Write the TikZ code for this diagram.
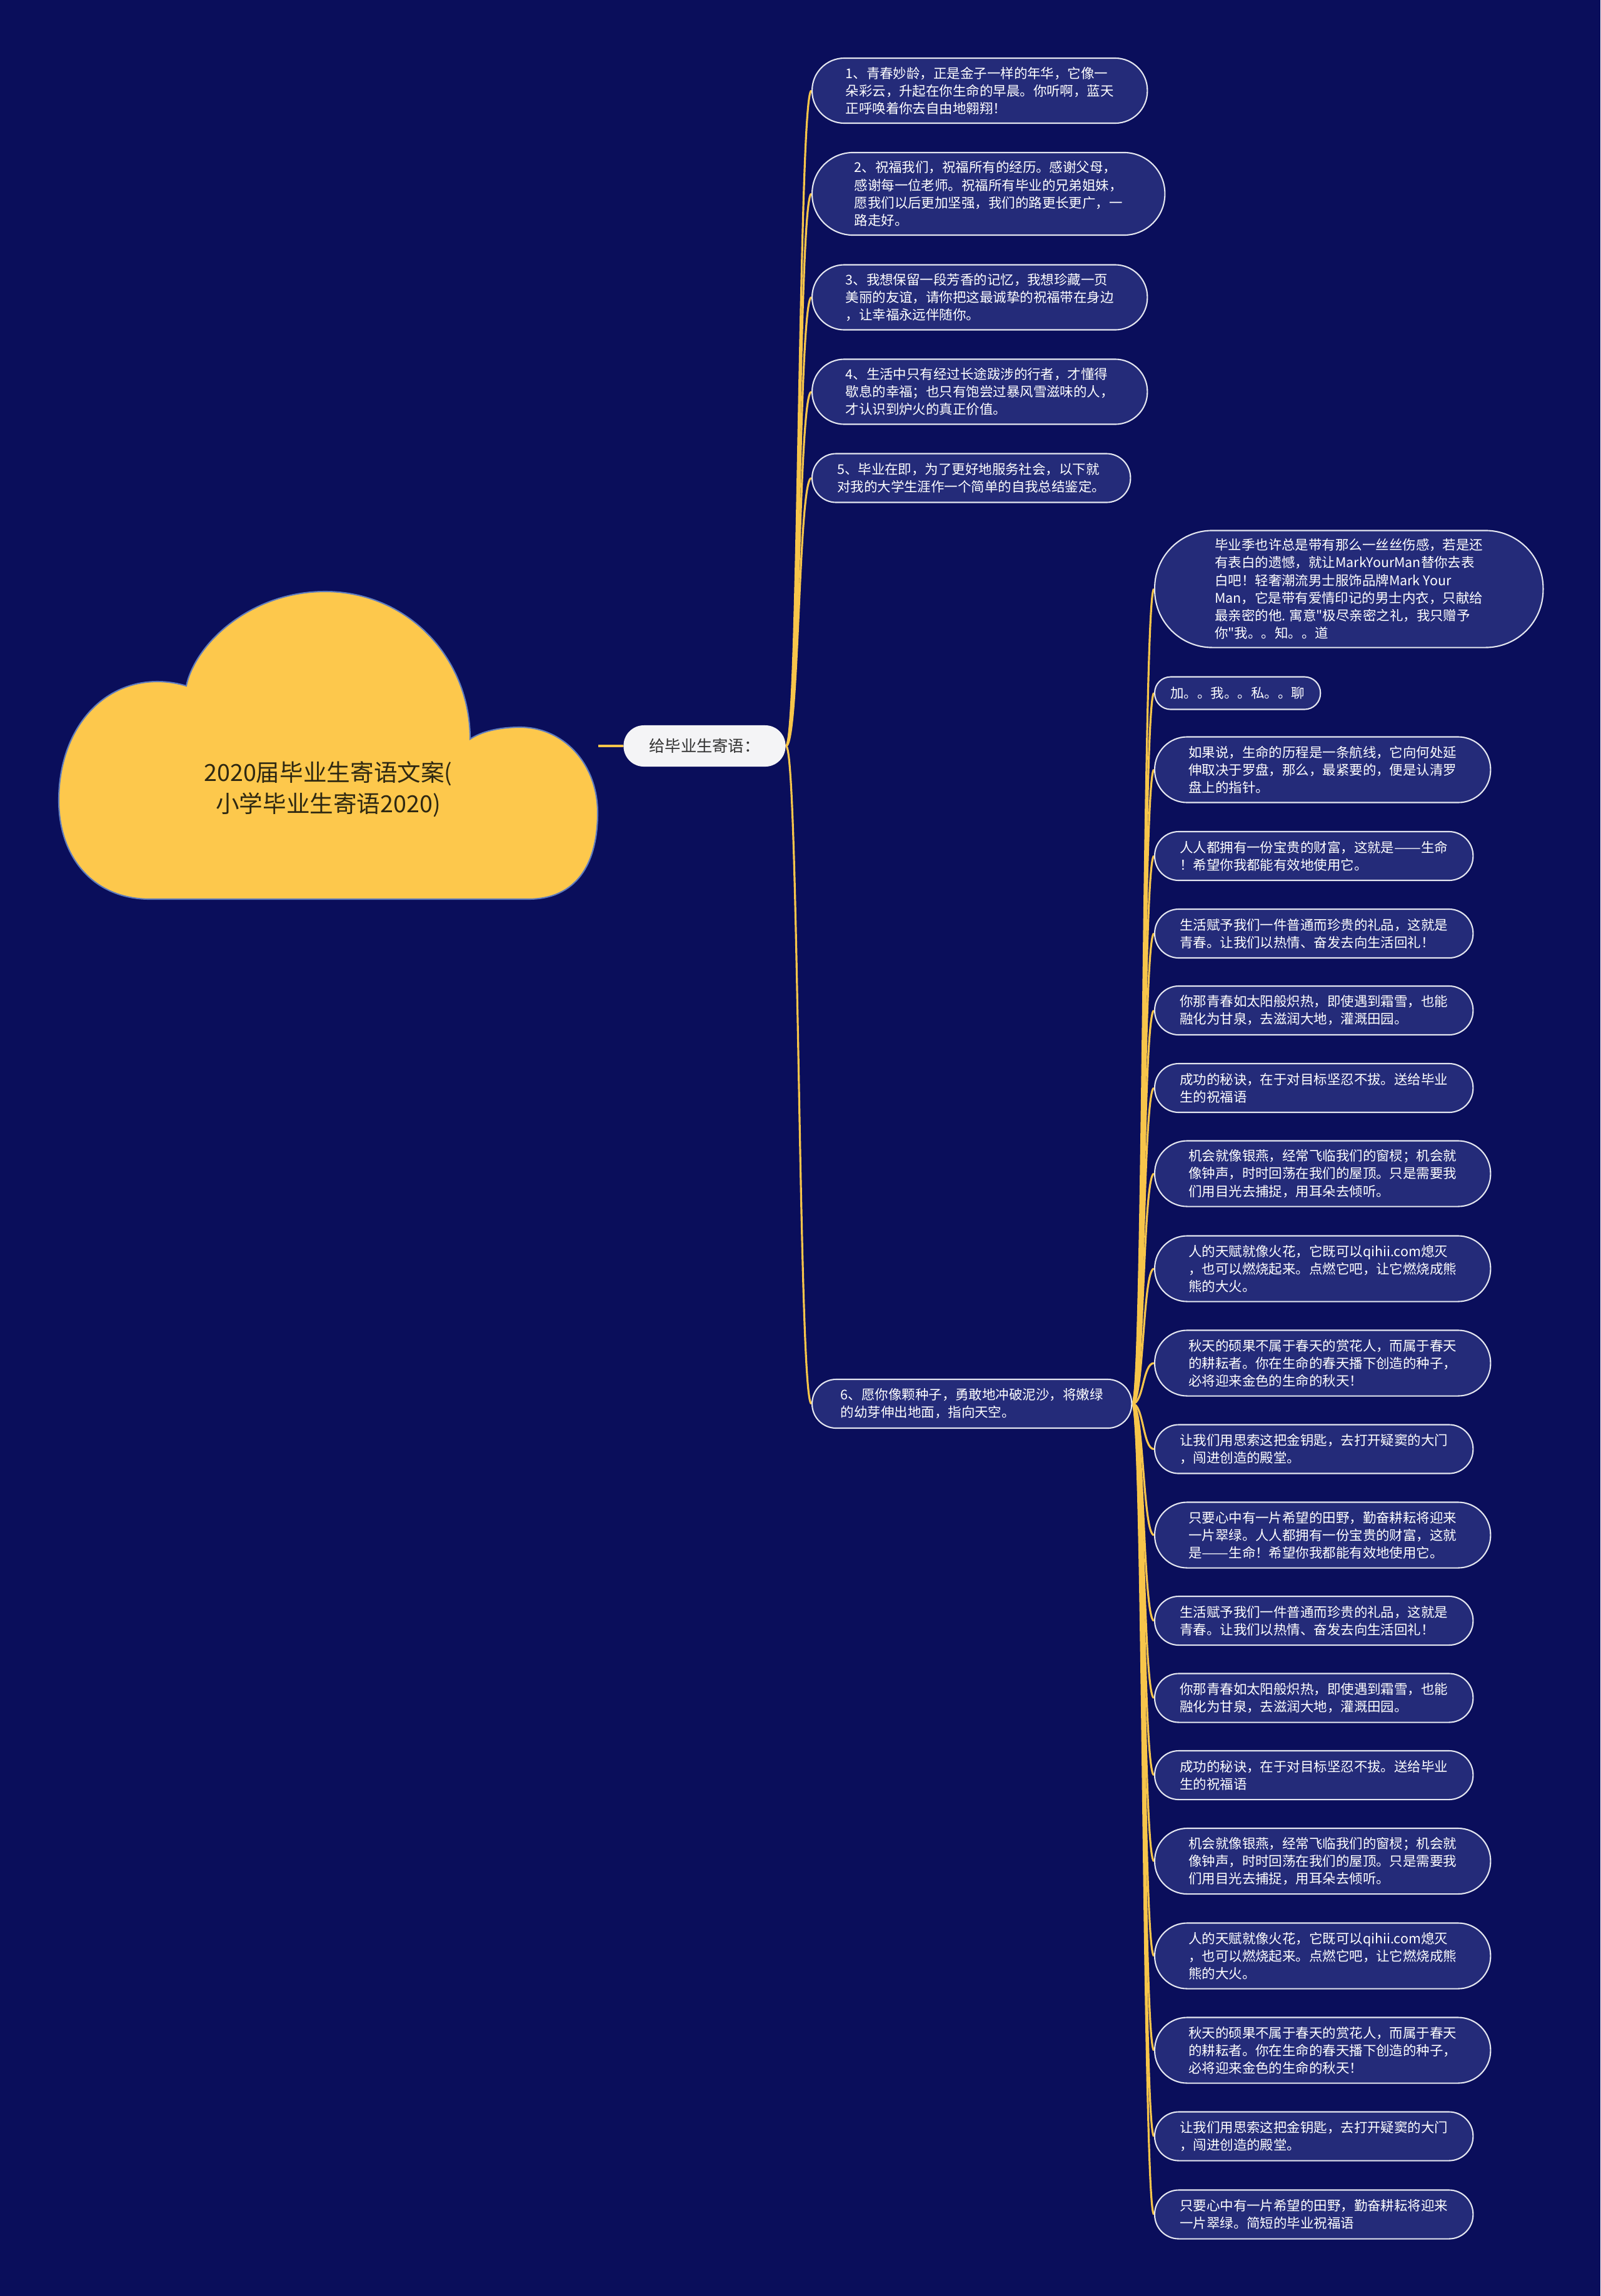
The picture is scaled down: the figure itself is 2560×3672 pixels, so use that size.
\documentclass[tikz,border=0pt]{standalone}
\usepackage{fontspec}
\usepackage{graphicx}
\newfontfamily\cjk{Noto Sans CJK SC}
\newcommand\ddash{\resizebox{2em}{\height}{——}}
\definecolor{bgc}{HTML}{0A0E5B}
\definecolor{boxc}{HTML}{242B79}
\definecolor{bordc}{HTML}{E4E6F0}
\definecolor{linec}{HTML}{F7C54A}
\definecolor{cloudc}{HTML}{FDC84C}
\definecolor{cloudb}{HTML}{5F7CBE}
\definecolor{titlec}{HTML}{2E2812}
\definecolor{hubc}{HTML}{F4F4F6}
\pgfdeclarelayer{bg}
\pgfsetlayers{bg,main}
\tikzset{
  leaf/.style={draw=bordc, line width=0.6pt, fill=boxc, text=white, align=left,
    font=\cjk\fontsize{6.1}{8}\selectfont, inner sep=0pt, anchor=west},
  nthree/.style={leaf, minimum width=5.36cm, minimum height=1.04cm, rounded corners=0.515cm},
  nfour/.style={leaf, minimum width=5.64cm, minimum height=1.32cm, rounded corners=0.655cm},
  ntwo/.style={leaf, minimum width=5.09cm, minimum height=0.78cm, rounded corners=0.385cm},
  rthree/.style={leaf, minimum width=5.37cm, minimum height=1.05cm, rounded corners=0.52cm},
  rtwo/.style={leaf, minimum width=5.09cm, minimum height=0.78cm, rounded corners=0.385cm},
  conn/.style={draw=linec, line width=0.9pt},
  hubbox/.style={fill=hubc, text=black!80, font=\cjk\fontsize{7.2}{9}\selectfont,
    minimum width=2.59cm, minimum height=0.66cm, rounded corners=0.325cm, inner sep=0pt},
  titletext/.style={text=titlec, align=center, font=\cjk\fontsize{10.7}{14.2}\selectfont}
}
\begin{document}
\begin{tikzpicture}[x=0.01cm,y=-0.01cm]
\useasboundingbox (0,0) rectangle (2560,3672);
\begin{pgfonlayer}{bg}
\fill[bgc] (0,0) rectangle (2560,3672);
\end{pgfonlayer}

% cloud
\draw[fill=cloudc, draw=cloudb, line width=0.6pt]
  (240,1438) -- (845,1438)
  .. controls (922,1438) and (956,1382) .. (956,1300)
  .. controls (956,1220) and (900,1163) .. (832,1163)
  .. controls (798,1163) and (770,1170) .. (752,1182)
  .. controls (752,1050) and (650,946) .. (520,946)
  .. controls (400,946) and (312,1030) .. (298,1097)
  .. controls (282,1092) and (266,1090) .. (252,1090)
  .. controls (160,1090) and (94,1170) .. (94,1280)
  .. controls (94,1372) and (150,1438) .. (240,1438) -- cycle;
\node[titletext] (root) at (525,1262) {2020届毕业生寄语文案(\\小学毕业生寄语2020)};
\coordinate (cloudE) at (957,1193);

\node[hubbox] (hub) at (1127,1193) {给毕业生寄语：};

% first level
\node[nthree] (n1) at (1298,145) {1、青春妙龄，正是金子一样的年华，它像一\\朵彩云，升起在你生命的早晨。你听啊，蓝天\\正呼唤着你去自由地翱翔！};
\node[nfour] (n2) at (1298,310) {2、祝福我们，祝福所有的经历。感谢父母，\\感谢每一位老师。祝福所有毕业的兄弟姐妹，\\愿我们以后更加坚强，我们的路更长更广，一\\路走好。};
\node[nthree] (n3) at (1298,475.5) {3、我想保留一段芳香的记忆，我想珍藏一页\\美丽的友谊，请你把这最诚挚的祝福带在身边\\，让幸福永远伴随你。};
\node[nthree] (n4) at (1298,626.5) {4、生活中只有经过长途跋涉的行者，才懂得\\歇息的幸福；也只有饱尝过暴风雪滋味的人，\\才认识到炉火的真正价值。};
\node[ntwo] (n5) at (1298,764.5) {5、毕业在即，为了更好地服务社会，以下就\\对我的大学生涯作一个简单的自我总结鉴定。};
\node[ntwo, minimum width=5.11cm] (n6) at (1298,2245) {6、愿你像颗种子，勇敢地冲破泥沙，将嫩绿\\的幼芽伸出地面，指向天空。};

% second level
\node[leaf, minimum width=6.21cm, minimum height=1.87cm, rounded corners=0.92cm] (r1) at (1846,942) {毕业季也许总是带有那么一丝丝伤感，若是还\\有表白的遗憾，就让MarkYourMan替你去表\\白吧！轻奢潮流男士服饰品牌Mark Your\\Man，它是带有爱情印记的男士内衣，只献给\\最亲密的他. 寓意"极尽亲密之礼，我只赠予\\你"我。。知。。道};
\node[leaf, minimum width=2.65cm, minimum height=0.52cm, rounded corners=0.255cm] (r2) at (1846,1108.5) {加。。我。。私。。聊};
\node[rthree] (r3) at (1846,1231) {如果说，生命的历程是一条航线，它向何处延\\伸取决于罗盘，那么，最紧要的，便是认清罗\\盘上的指针。};
\node[rtwo] (r4) at (1846,1369) {人人都拥有一份宝贵的财富，这就是\ddash 生命\\！希望你我都能有效地使用它。};
\node[rtwo] (r5) at (1846,1493) {生活赋予我们一件普通而珍贵的礼品，这就是\\青春。让我们以热情、奋发去向生活回礼！};
\node[rtwo] (r6) at (1846,1616) {你那青春如太阳般炽热，即使遇到霜雪，也能\\融化为甘泉，去滋润大地，灌溉田园。};
\node[rtwo] (r7) at (1846,1740) {成功的秘诀，在于对目标坚忍不拔。送给毕业\\生的祝福语};
\node[rthree] (r8) at (1846,1877) {机会就像银燕，经常飞临我们的窗棂；机会就\\像钟声，时时回荡在我们的屋顶。只是需要我\\们用目光去捕捉，用耳朵去倾听。};
\node[rthree] (r9) at (1846,2029) {人的天赋就像火花，它既可以qihii.com熄灭\\，也可以燃烧起来。点燃它吧，让它燃烧成熊\\熊的大火。};
\node[rthree] (r10) at (1846,2180) {秋天的硕果不属于春天的赏花人，而属于春天\\的耕耘者。你在生命的春天播下创造的种子，\\必将迎来金色的生命的秋天！};
\node[rtwo] (r11) at (1846,2317.5) {让我们用思索这把金钥匙，去打开疑窦的大门\\，闯进创造的殿堂。};
\node[rthree] (r12) at (1846,2455) {只要心中有一片希望的田野，勤奋耕耘将迎来\\一片翠绿。人人都拥有一份宝贵的财富，这就\\是\ddash 生命！希望你我都能有效地使用它。};
\node[rtwo] (r13) at (1846,2592) {生活赋予我们一件普通而珍贵的礼品，这就是\\青春。让我们以热情、奋发去向生活回礼！};
\node[rtwo] (r14) at (1846,2715.5) {你那青春如太阳般炽热，即使遇到霜雪，也能\\融化为甘泉，去滋润大地，灌溉田园。};
\node[rtwo] (r15) at (1846,2839) {成功的秘诀，在于对目标坚忍不拔。送给毕业\\生的祝福语};
\node[rthree] (r16) at (1846,2976.5) {机会就像银燕，经常飞临我们的窗棂；机会就\\像钟声，时时回荡在我们的屋顶。只是需要我\\们用目光去捕捉，用耳朵去倾听。};
\node[rthree] (r17) at (1846,3128) {人的天赋就像火花，它既可以qihii.com熄灭\\，也可以燃烧起来。点燃它吧，让它燃烧成熊\\熊的大火。};
\node[rthree] (r18) at (1846,3279) {秋天的硕果不属于春天的赏花人，而属于春天\\的耕耘者。你在生命的春天播下创造的种子，\\必将迎来金色的生命的秋天！};
\node[rtwo] (r19) at (1846,3416.5) {让我们用思索这把金钥匙，去打开疑窦的大门\\，闯进创造的殿堂。};
\node[rtwo] (r20) at (1846,3541.5) {只要心中有一片希望的田野，勤奋耕耘将迎来\\一片翠绿。简短的毕业祝福语};

\begin{pgfonlayer}{bg}
\draw[conn, line width=1.4pt] (cloudE) -- (hub.west);
\foreach \n in {n1,n2,n3,n4,n5,n6}
  \draw[conn] (hub.east) .. controls +(21,0) and +(-21,0) .. (\n.west);
\foreach \r in {r1,r2,r3,r4,r5,r6,r7,r8,r9,r10,r11,r12,r13,r14,r15,r16,r17,r18,r19,r20}
  \draw[conn] (n6.east) .. controls +(18,0) and +(-18,0) .. (\r.west);
\end{pgfonlayer}
\end{tikzpicture}
\end{document}
